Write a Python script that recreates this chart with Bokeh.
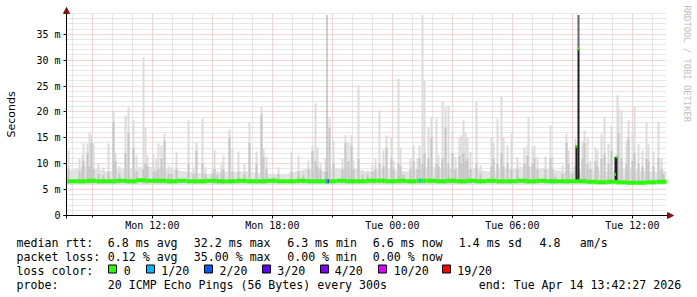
import numpy as np
import pandas as pd
from bokeh.plotting import figure
from bokeh.models import (FixedTicker, DatetimeTickFormatter, Label, Arrow, NormalHead,
                          BoxAnnotation, Range1d)
from bokeh.embed import file_html
from bokeh.resources import INLINE

# ---------------- data ----------------
graph_start = "2026-04-13 07:42:27"
graph_end = "2026-04-14 13:42:27"
y_top = 39.0

x_tick_times = ["2026-04-13 12:00", "2026-04-13 18:00", "2026-04-14 00:00",
                "2026-04-14 06:00", "2026-04-14 12:00"]
y_ticks = [0, 5, 10, 15, 20, 25, 30, 35]
y_tick_labels = ["0", "5 m", "10 m", "15 m", "20 m", "25 m", "30 m", "35 m"]

# smoke spikes: minutes after graph start, max rtt (ms), upper-mid rtt (ms)
smoke_t = [3, 36, 45, 48, 60, 66, 72, 78, 93, 108,
           123, 138, 144, 156, 174, 183, 198, 207, 228, 234,
           240, 258, 267, 273, 282, 291, 303, 312, 327, 363,
           378, 387, 405, 414, 435, 441, 450, 462, 468, 486,
           495, 513, 531, 546, 567, 582, 588, 597, 618, 633,
           672, 693, 708, 723, 735, 744, 750, 759, 774, 786,
           798, 825, 834, 843, 852, 858, 873, 885, 900, 915,
           924, 936, 948, 957, 972, 978, 993, 999, 1008, 1029,
           1038, 1050, 1056, 1065, 1071, 1083, 1092, 1107, 1113, 1125,
           1134, 1143, 1155, 1164, 1176, 1182, 1188, 1194, 1200, 1209,
           1227, 1239, 1272, 1278, 1290, 1302, 1308, 1320, 1332, 1350,
           1371, 1380, 1383, 1395, 1401, 1410, 1434, 1449, 1455, 1464,
           1485, 1497, 1503, 1515, 1524, 1545, 1551, 1560, 1569, 1584,
           1590, 1602, 1611, 1623, 1632, 1650, 1653, 1662, 1677, 1683,
           1695, 1701, 1713, 1725, 1737, 1743, 1758, 1773, 1782, 1788]
smoke_max = [12.6, 11.0, 11.6, 13.9, 13.9, 16.1, 15.5, 13.9, 10.0, 9.3,
             13.9, 20.3, 12.0, 9.5, 19.3, 20.9, 18.4, 11.6, 30.5, 17.0,
             11.6, 11.8, 11.0, 13.9, 13.5, 15.8, 9.7, 9.3, 12.2, 18.4,
             9.3, 14.2, 18.7, 9.3, 9.3, 12.6, 8.7, 10.3, 11.6, 16.6,
             12.9, 12.3, 10.0, 18.0, 12.3, 21.0, 12.9, 11.3, 8.1, 9.3,
             12.3, 11.6, 8.7, 10.6, 13.5, 21.6, 13.2, 10.3, 10.9, 19.0,
             14.5, 10.9, 15.5, 14.2, 15.5, 10.6, 25.1, 8.7, 8.7, 9.7,
             10.9, 20.3, 12.6, 15.5, 15.1, 10.6, 26.4, 13.2, 8.4, 10.9,
             13.5, 10.9, 13.5, 38.7, 26.0, 17.1, 19.0, 18.7, 11.6, 21.9,
             20.9, 21.3, 16.4, 11.3, 15.1, 15.5, 18.4, 16.0, 15.1, 12.3,
             21.9, 9.7, 15.1, 14.2, 18.7, 22.9, 15.1, 13.5, 15.8, 11.3,
             13.2, 13.5, 18.9, 13.2, 13.5, 11.3, 11.3, 17.4, 11.3, 8.1,
             9.7, 15.8, 12.6, 9.3, 14.8, 14.5, 16.4, 15.1, 10.6, 13.2,
             12.6, 15.8, 18.9, 13.8, 17.4, 23.2, 20.6, 20.3, 14.5, 18.4,
             16.1, 21.0, 13.8, 12.6, 18.0, 13.8, 12.3, 18.0, 10.9, 8.7]
smoke_mid = [9.0, 8.5, 9.5, 10.5, 12.0, 9.5, 14.0, 9.0, 8.0, 7.8,
             8.5, 18.0, 10.5, 8.0, 12.0, 16.0, 13.0, 8.5, 9.0, 10.0,
             9.5, 8.5, 8.5, 9.0, 11.0, 14.5, 8.0, 8.0, 9.0, 10.0,
             8.0, 12.5, 10.0, 8.0, 8.0, 9.0, 7.8, 8.5, 9.0, 15.0,
             8.5, 8.5, 8.0, 14.0, 10.0, 19.5, 11.5, 9.0, 7.5, 8.0,
             8.5, 8.5, 7.8, 9.0, 12.5, 10.5, 9.5, 9.0, 8.5, 17.0,
             10.0, 9.0, 14.0, 10.5, 13.5, 9.0, 11.0, 7.8, 8.0, 8.5,
             9.0, 10.0, 9.5, 13.0, 11.0, 9.0, 10.0, 9.5, 7.8, 9.0,
             10.5, 9.0, 11.0, 10.0, 12.0, 11.0, 15.0, 10.0, 9.5, 11.0,
             17.0, 10.0, 12.0, 9.0, 11.5, 10.0, 12.0, 10.5, 11.0, 9.0,
             10.0, 8.0, 9.5, 11.0, 10.0, 12.0, 9.5, 10.0, 9.0, 9.0,
             10.0, 11.5, 9.5, 10.0, 11.0, 9.0, 9.0, 11.0, 9.0, 7.5,
             8.0, 14.0, 10.0, 8.0, 9.5, 11.0, 14.0, 10.0, 9.0, 10.5,
             9.5, 11.0, 12.0, 10.0, 12.5, 9.5, 16.0, 11.0, 10.0, 15.0,
             10.5, 12.0, 10.0, 9.5, 11.0, 10.5, 9.5, 11.0, 9.0, 8.0]

# low smoke band around the median, hourly (minutes after start)
band_t = list(range(0, 1801, 60))
band_lo = [6.0] * 31
band_hi = [8.5, 9.5, 8.5, 9.0, 9.5, 9.0, 8.5, 8.0, 8.5, 8.5,
           8.0, 8.0, 9.0, 8.5, 9.5, 8.5, 9.0, 8.5, 9.5, 9.0,
           9.5, 8.5, 9.0, 9.5, 9.0, 8.5, 9.0, 8.5, 9.0, 8.5, 8.5]

# median rtt, every 30 minutes (ms)
med_t = list(range(0, 1801, 30))
med_v = [6.6, 6.6, 6.7, 6.6, 6.6, 6.7, 6.6, 6.8, 6.7, 6.7, 6.6,
         6.7, 6.6, 6.6, 6.7, 6.6, 6.6, 6.7, 6.6, 6.6, 6.7,
         6.6, 6.6, 6.7, 6.6, 6.6, 6.6, 6.7, 6.6, 6.6, 6.7,
         6.7, 6.6, 6.7, 6.6, 6.7, 6.7, 6.6, 6.7, 6.6, 6.7,
         6.6, 6.7, 6.6, 6.6, 6.7, 6.6, 6.7, 6.6, 6.6, 6.6,
         6.6, 6.5, 6.4, 6.5, 6.4, 6.3, 6.3, 6.4, 6.5, 6.5]

# samples with concentrated high rtt (dark smoke)
core_t = [1527, 1533, 1644, 1647]
core_med = [13.3, 32.2, 7.9, 11.3]
core_dark = [13.5, 32.2, 11.3, 11.3]
core_max = [13.5, 38.7, 11.3, 11.3]
line_t = [780]
line_max = [38.7]

# lost pings per sample (of 20)
loss_t = [777, 783, 1059]
loss_n = [1, 7, 1]

loss_labels = ["0", "1/20", "2/20", "3/20", "4/20", "10/20", "19/20"]
loss_colors = ["#26ff00", "#00b8ff", "#0059ff", "#5e00ff", "#7e00ff", "#dd00ff", "#ff0000"]
loss_bins = [0, 1, 2, 3, 4, 10, 19]

legend_rtt = ["6.8 ms avg", "32.2 ms max", "6.3 ms min", "6.6 ms now", "1.4 ms sd", "4.8", "am/s"]
legend_loss = ["0.12 % avg", "35.00 % max", "0.00 % min", "0.00 % now"]
probe_text = "20 ICMP Echo Pings (56 Bytes) every 300s"
end_text = "end: Tue Apr 14 13:42:27 2026"

# ---------------- layout helpers ----------------
W, H = 697, 297
GL, GR, GT, GB = 66, 666, 13, 215      # graph area in canvas px
t0 = pd.Timestamp(graph_start)
t1 = pd.Timestamp(graph_end)
sec_per_px = (t1 - t0).total_seconds() / (GR - GL)
ms_per_px = y_top / (GB - GT)


def T(mins):
    return t0 + pd.to_timedelta(np.asarray(mins, dtype=float), unit="m")


def ms(ts):
    return [pd.Timestamp(t).value / 1e6 for t in ts]


x_lo = t0 - pd.Timedelta(seconds=GL * sec_per_px)
x_hi = t1 + pd.Timedelta(seconds=(W - GR) * sec_per_px)
y_lo = -(H - GB) * ms_per_px
y_hi = y_top + GT * ms_per_px

p = figure(width=W, height=H, x_axis_type="datetime",
           x_range=Range1d(x_lo, x_hi), y_range=Range1d(y_lo, y_hi),
           output_backend="svg", toolbar_location=None,
           min_border=0, min_border_left=0, min_border_right=0,
           min_border_top=0, min_border_bottom=0)
p.title.visible = False
p.background_fill_color = "white"
p.border_fill_color = "white"
p.outline_line_color = None

MONO = "DejaVu Sans Mono"

# ---- grid (under the data) ----
hours = pd.date_range("2026-04-13 08:00", "2026-04-14 13:00", freq="1h")
major3 = [h for h in hours if h.hour % 3 == 0]
minor1 = [h for h in hours if h.hour % 3 != 0]
p.xgrid.ticker = FixedTicker(ticks=ms(major3), minor_ticks=ms(minor1))
p.ygrid.ticker = FixedTicker(ticks=[v for v in y_ticks if v > 0],
                             minor_ticks=[v for v in range(1, 40) if v % 5])
p.xgrid.cross_bounds = (0, y_top)
p.ygrid.cross_bounds = (ms([t0])[0], ms([t1])[0])
for g in (p.xgrid, p.ygrid):
    g.grid_line_color = "#eeaaaa"
    g.grid_line_dash = "1 1"
    g.grid_line_width = 1
    g.minor_grid_line_color = "#cfcfcf"
    g.minor_grid_line_dash = "1 1"
    g.minor_grid_line_width = 1

# ---- smoke ----
p.varea(x=T(band_t), y1=band_lo, y2=band_hi, fill_color="#e3e3e3")
st = np.asarray(smoke_t, dtype=float)
p.quad(left=T(st), right=T(st + 6), bottom=6.2, top=smoke_max,
       fill_color="#dcdcdc", line_color=None)
p.quad(left=T(st), right=T(st + 6), bottom=6.2, top=smoke_mid,
       fill_color="#c6c6c6", line_color=None)
lt = np.asarray(line_t, dtype=float)
p.quad(left=T(lt), right=T(lt + 3), bottom=6.2, top=line_max,
       fill_color="#a0a0a0", line_color=None)
ct = np.asarray(core_t, dtype=float)
p.quad(left=T(ct), right=T(ct + 6), bottom=core_dark, top=core_max,
       fill_color="#666666", line_color=None)
p.quad(left=T(ct), right=T(ct + 6), bottom=6.8, top=core_dark,
       fill_color="#1e1e1e", line_color=None)

# ---- median line ----
mt = np.asarray(med_t, dtype=float)
p.segment(x0=T(mt[:-1]), x1=T(mt[1:]), y0=med_v[:-1], y1=med_v[:-1],
          line_color=loss_colors[0], line_width=4)
p.segment(x0=T(ct), x1=T(ct + 4), y0=core_med, y1=core_med,
          line_color=loss_colors[0], line_width=3)


def loss_color(n):
    c = loss_colors[0]
    for b, col in zip(loss_bins, loss_colors):
        if n >= b:
            c = col
    return c


lts = np.asarray(loss_t, dtype=float)
lv = np.interp(lts, mt, med_v)
p.segment(x0=T(lts), x1=T(lts + 4), y0=lv, y1=lv,
          line_color=[loss_color(n) for n in loss_n], line_width=4)

# ---- axes, pinned at the graph edges ----
p.xaxis.fixed_location = 0
p.yaxis.fixed_location = ms([t0])[0]
p.xaxis.bounds = (ms([t0])[0], ms([t1])[0])
p.yaxis.bounds = (0, y_top)
p.xaxis.ticker = FixedTicker(ticks=ms(pd.to_datetime(x_tick_times)), minor_ticks=ms(major3))
fmt = "%a %H:%M"
p.xaxis.formatter = DatetimeTickFormatter(milliseconds=fmt, seconds=fmt, minsec=fmt, minutes=fmt,
                                          hourmin=fmt, hours=fmt, days=fmt, months=fmt, years=fmt)
p.yaxis.ticker = FixedTicker(ticks=y_ticks, minor_ticks=[])
p.yaxis.major_label_overrides = dict(zip(y_ticks, y_tick_labels))
for ax in (p.xaxis[0], p.yaxis[0]):
    ax.axis_line_color = "black"
    ax.major_tick_line_color = "black"
    ax.minor_tick_line_color = "black"
    ax.major_tick_in = 0
    ax.major_tick_out = 3
    ax.minor_tick_in = 0
    ax.minor_tick_out = 2
    ax.major_label_text_font = MONO
    ax.major_label_text_font_size = "10px"
    ax.major_label_text_color = "black"
    ax.major_label_standoff = 3
p.xaxis.major_label_standoff = 1
p.yaxis.axis_label = "Seconds"
p.yaxis.axis_label_text_font = "DejaVu Sans"
p.yaxis.axis_label_text_font_size = "11px"
p.yaxis.axis_label_text_font_style = "normal"
p.yaxis.axis_label_text_color = "black"
p.yaxis.axis_label_standoff = 15

# screen units here: px from the canvas left / bottom (the frame fills the canvas)
head_col = "#8b1010"
p.add_layout(Arrow(end=NormalHead(size=6, fill_color=head_col, line_color=head_col),
                   x_start=GL - 3, y_start=H - GB, x_end=GR + 7, y_end=H - GB,
                   start_units="screen", end_units="screen", line_color="black", line_width=1))
p.add_layout(Arrow(end=NormalHead(size=6, fill_color=head_col, line_color=head_col),
                   x_start=GL, y_start=H - GB - 3, x_end=GL, y_end=H - 7,
                   start_units="screen", end_units="screen", line_color="black", line_width=1))


# ---- legend text below the graph ----
def put(text, cx, base, size="11.6px", color="black", font=MONO):
    p.add_layout(Label(x=cx, y=H - base, x_units="screen", y_units="screen",
                       text=text, text_font=font, text_font_size=size, text_color=color,
                       text_baseline="alphabetic", text_align="left"))


rtt_x = [107.3, 193.3, 286.7, 372.3, 458.3, 539.0, 579.3]
loss_x = [107.3, 193.3, 286.7, 372.3]
box_x = [108, 146, 204, 262, 320, 378, 442]
lab_x = [123.3, 160.7, 219.0, 276.7, 334.3, 393.3, 456.7]
bases = [242, 256, 270, 284]

put("median rtt:", 16, bases[0])
for s, x in zip(legend_rtt, rtt_x):
    put(s, x, bases[0])
put("packet loss:", 16, bases[1])
for s, x in zip(legend_loss, loss_x):
    put(s, x, bases[1])
put("loss color:", 16, bases[2])
for s, c, bx, lx in zip(loss_labels, loss_colors, box_x, lab_x):
    p.add_layout(BoxAnnotation(left=bx, right=bx + 8, top=H - 264.5, bottom=H - 272.5,
                               left_units="screen", right_units="screen",
                               top_units="screen", bottom_units="screen",
                               fill_color=c, fill_alpha=1, line_color="black", line_width=1,
                               line_alpha=1))
    put(s, lx, bases[2])
put("probe:", 16, bases[3])
put(probe_text, 107.3, bases[3])
put(end_text, 478.3, bases[3])

# watermark
p.add_layout(Label(x=686, y=H - 5, x_units="screen", y_units="screen",
                   text="RRDTOOL / TOBI OETIKER", text_font=MONO, text_font_size="8.8px",
                   text_color="#c0c0c0", angle=-90, angle_units="deg",
                   text_align="left", text_baseline="middle"))

open("out.html", "w").write(file_html(p, INLINE))
